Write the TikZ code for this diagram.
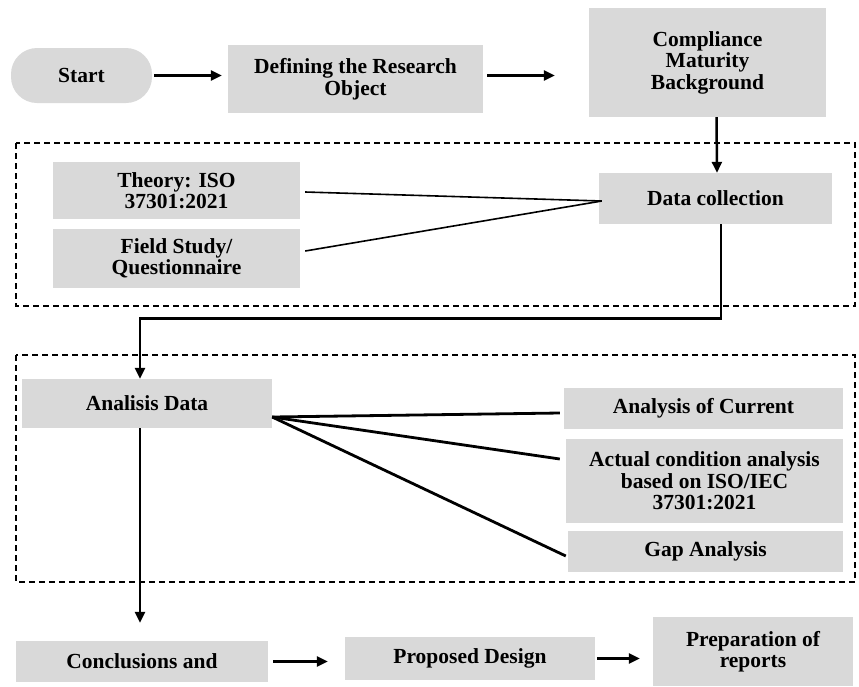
\documentclass[tikz,border=0pt]{standalone}
\usepackage{fontspec}
\setmainfont{Liberation Serif}
\usetikzlibrary{arrows.meta}
\definecolor{boxgray}{HTML}{D9D9D9}
\begin{document}
\begin{tikzpicture}[x=1pt,y=-1pt,
  box/.style={fill=boxgray, draw=none, align=center, inner sep=0pt,
    font=\fontsize{21.5}{21.5}\selectfont\bfseries},
  arr/.style={line width=2.5pt, -{Triangle[length=11pt,width=10pt]}},
  thick line/.style={line width=2.8pt},
  thin line/.style={line width=1.6pt},
  dashbox/.style={draw, line width=1.4pt, dash pattern=on 6pt off 4pt}]
\useasboundingbox (0,0) rectangle (859,686);

\node[box, minimum width=141pt, minimum height=55pt, rounded corners=26pt] (start) at (81.5,75.5) {Start};
\node[box, minimum width=255pt, minimum height=68pt] (def) at (355.5,79) {Defining the Research\\Object};
\node[box, minimum width=237pt, minimum height=109pt] (comp) at (707.5,62.5) {Compliance\\Maturity\\Background};

\draw[dashbox] (16,143) rectangle (855,306);
\node[box, minimum width=233pt, minimum height=51pt] (data) at (715.5,198.5) {Data collection};
\node[box, minimum width=247pt, minimum height=57pt] (theory) at (176.5,190.5) {Theory: ISO\\37301:2021};
\node[box, minimum width=247pt, minimum height=59pt] (field) at (176.5,258.5) {Field Study/\\Questionnaire};

\draw[dashbox] (16,355) rectangle (855,582);
\node[box, minimum width=250pt, minimum height=49pt] (anal) at (147,403.5) {Analisis Data};
\node[box, minimum width=279pt, minimum height=41pt] (cur) at (703.5,408.5) {Analysis of Current};
\node[box, minimum width=277pt, minimum height=84pt] (act) at (704.5,481) {Actual condition analysis\\based on ISO/IEC\\37301:2021};
\node[box, minimum width=275pt, minimum height=41pt] (gap) at (705.5,551.5) {Gap Analysis};

\node[box, minimum width=252pt, minimum height=41pt] (concl) at (142,661.5) {Conclusions and};
\node[box, minimum width=250pt, minimum height=43pt] (prop) at (470,658.5) {Proposed Design};
\node[box, minimum width=200pt, minimum height=69pt] (prep) at (753,651.5) {Preparation of\\reports};

\coordinate (anin) at ([xshift=-7pt]anal.north);
\coordinate (anout) at ([xshift=-7pt]anal.south);
\coordinate (fan) at ([yshift=-13.5pt]anal.east);

% top row arrows
\draw[arr, shorten <=2pt, shorten >=6pt] (start.east) -- (start.east -| def.west);
\draw[arr, shorten <=4pt, shorten >=34pt] (def.east |- start.east) -- (start.east -| comp.west);
\draw[arr] ([xshift=9pt]comp.south) -- ([xshift=1.5pt]data.north);

% data collection inputs
\draw[thin line] ([xshift=5pt,yshift=-1.5pt]theory.east) -- ([xshift=3pt,yshift=-2.5pt]data.west);
\draw[thin line] ([xshift=5pt,yshift=7.5pt]field.east) -- ([xshift=3pt,yshift=-2.5pt]data.west);

% data collection to analysis
\draw[thin line] ([xshift=5.5pt]data.south) -- ++(0,94) coordinate (turn);
\draw[thick line] ([xshift=0.8pt]turn) -- ([xshift=-1.4pt]turn -| anin);
\draw[arr] ([yshift=1.4pt]turn -| anin) -- (anin);

% analysis fan
\draw[thick line] (fan) -- ([xshift=-4pt,yshift=-4.5pt]cur.west);
\draw[thick line] (fan) -- ([xshift=-6pt,yshift=22pt]act.west);
\draw[thick line] (fan) -- ([xshift=-2pt,yshift=-4.5pt]gap.west);

% analysis to conclusions
\draw[arr, shorten >=18pt] (anout) -- (anout |- concl.north);

% bottom row
\draw[arr, shorten <=5pt, shorten >=17pt] (concl.east) -- (concl.east -| prop.west);
\draw[arr, shorten <=2pt, shorten >=13pt] (prop.east) -- (prop.east -| prep.west);
\end{tikzpicture}
\end{document}
